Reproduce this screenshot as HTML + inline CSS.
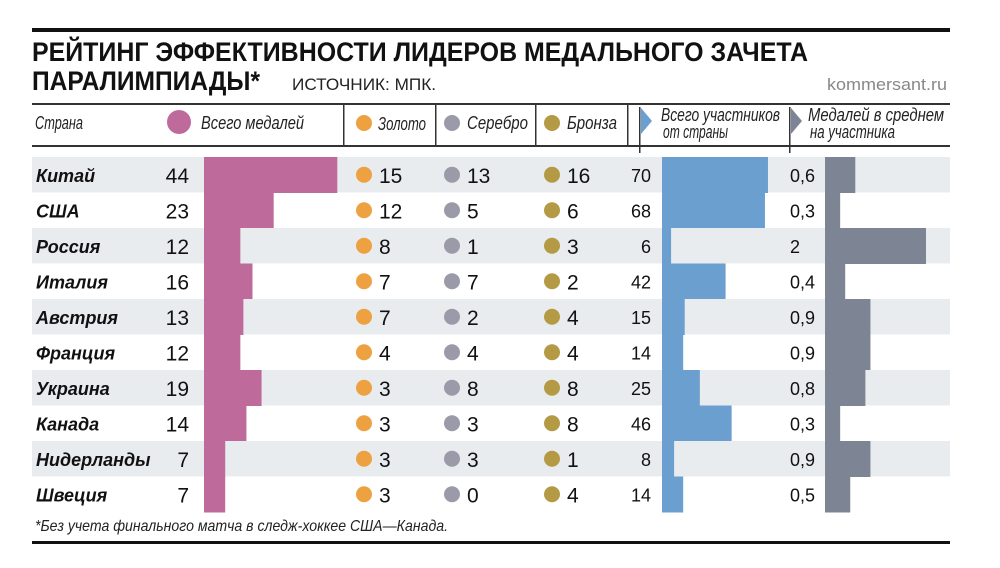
<!DOCTYPE html>
<html><head><meta charset="utf-8">
<style>
body{margin:0;background:#fff;}
svg{display:block;font-family:"Liberation Sans","DejaVu Sans",sans-serif;}
</style></head>
<body>
<svg id="chart" width="1000" height="568" viewBox="0 0 1000 568" xmlns="http://www.w3.org/2000/svg">
<rect x="32" y="28" width="918" height="4" fill="#111"/>
<text x="32" y="61" font-size="27" font-weight="bold" textLength="776" lengthAdjust="spacingAndGlyphs" fill="#111">РЕЙТИНГ ЭФФЕКТИВНОСТИ ЛИДЕРОВ МЕДАЛЬНОГО ЗАЧЕТА</text>
<text x="32" y="90" font-size="27" font-weight="bold" textLength="228" lengthAdjust="spacingAndGlyphs" fill="#111">ПАРАЛИМПИАДЫ*</text>
<text x="292" y="90" font-size="17" textLength="144" lengthAdjust="spacingAndGlyphs" fill="#222">ИСТОЧНИК: МПК.</text>
<text x="947" y="90" font-size="17" text-anchor="end" textLength="120" lengthAdjust="spacingAndGlyphs" fill="#888">kommersant.ru</text>
<rect x="32" y="103" width="918" height="2" fill="#333"/>
<rect x="32" y="145" width="918" height="2" fill="#333"/>
<g font-style="italic" font-size="18" fill="#222">
<text x="35" y="129" textLength="48" lengthAdjust="spacingAndGlyphs">Страна</text>
<circle cx="179" cy="122" r="12" fill="#be6b9b"/>
<text x="201" y="129" textLength="103" lengthAdjust="spacingAndGlyphs">Всего медалей</text>
<rect x="343" y="104" width="1.5" height="42" fill="#333"/>
<circle cx="364" cy="123" r="8" fill="#eda140"/>
<text x="378" y="130" textLength="48" lengthAdjust="spacingAndGlyphs">Золото</text>
<rect x="435" y="104" width="1.5" height="42" fill="#333"/>
<circle cx="452" cy="123" r="8" fill="#9a9aa8"/>
<text x="467" y="129" textLength="61" lengthAdjust="spacingAndGlyphs">Серебро</text>
<rect x="535" y="104" width="1.5" height="42" fill="#333"/>
<circle cx="552" cy="123" r="8" fill="#b49a45"/>
<text x="567" y="129" textLength="50" lengthAdjust="spacingAndGlyphs">Бронза</text>
<rect x="627" y="104" width="1.5" height="42" fill="#333"/>
<rect x="639" y="107" width="1.5" height="46" fill="#333"/>
<polygon points="641,108 652,121 641,134" fill="#6b9fd0"/>
<text x="661" y="121" textLength="119" lengthAdjust="spacingAndGlyphs">Всего участников</text>
<text x="663" y="138" textLength="65" lengthAdjust="spacingAndGlyphs">от страны</text>
<rect x="789" y="107" width="1.5" height="46" fill="#333"/>
<polygon points="791,108 802,121 791,134" fill="#7d8595"/>
<text x="808" y="121" textLength="136" lengthAdjust="spacingAndGlyphs">Медалей в среднем</text>
<text x="810" y="138" textLength="85" lengthAdjust="spacingAndGlyphs">на участника</text>
</g>
<g id="rows"></g>
<text x="35" y="531" font-size="16" font-style="italic" fill="#222" textLength="413" lengthAdjust="spacingAndGlyphs">*Без учета финального матча в следж-хоккее США—Канада.</text>
<rect x="32" y="541" width="918" height="3" fill="#111"/>
</svg>
<script>
const countries=["Китай","США","Россия","Италия","Австрия","Франция","Украина","Канада","Нидерланды","Швеция"];
const totals=[44,23,12,16,13,12,19,14,7,7];
const gold=[15,12,8,7,7,4,3,3,3,3];
const silver=[13,5,1,7,2,4,8,3,3,0];
const bronze=[16,6,3,2,4,4,8,8,1,4];
const participants=[70,68,6,42,15,14,25,46,8,14];
const averageLabels=["0,6","0,3","2","0,4","0,9","0,9","0,8","0,3","0,9","0,5"];
const averages=[0.6,0.3,2,0.4,0.9,0.9,0.8,0.3,0.9,0.5];

const NS="http://www.w3.org/2000/svg";
const g=document.getElementById('rows');
const top0=157, rh=35.5;
const xTotal=v=>204+v*3.03;
const xPart=v=>662+v*1.514;
const xAvg=v=>825+v*50.5;
function mk(tag,attrs,txt){const e=document.createElementNS(NS,tag);for(const k in attrs)e.setAttribute(k,attrs[k]);if(txt!==undefined)e.textContent=txt;g.appendChild(e);return e;}
countries.forEach((c,i)=>{
  const y=top0+i*rh, cy=y+rh/2, by=cy+7;
  if(i%2===0){
    const s=mk('rect',{x:32,y:y,width:918,height:rh,fill:'#e9ecef'});
    
    
  }
  const t=mk('text',{x:36,y:by,'font-size':18,'font-weight':'bold','font-style':'italic',fill:'#111'},c);
  
  
  const tv=mk('text',{x:189,y:by+1,'font-size':21,'text-anchor':'end',fill:'#111'},totals[i]);
  
  
  const b=mk('rect',{x:204,y:y,width:xTotal(totals[i])-204,height:rh+0.5,fill:'#be6b9b'});
  
  
  [[gold,364,'#eda140','gold'],[silver,452,'#9a9aa8','silver'],[bronze,552,'#b49a45','bronze']].forEach(([arr,x,col,n])=>{
    const d=mk('circle',{cx:x,cy:cy,r:8,fill:col});
    
    
    const v=mk('text',{x:x+15,y:by+1,'font-size':21,fill:'#111'},arr[i]);
    
    
  });
  const pv=mk('text',{x:651,y:by,'font-size':18,'text-anchor':'end',fill:'#111'},participants[i]);
  
  
  const pb=mk('rect',{x:662,y:y,width:xPart(participants[i])-662,height:rh+0.5,fill:'#6b9fd0'});
  
  
  const av=mk('text',{x:790,y:by,'font-size':18,fill:'#111'},averageLabels[i]);
  
  
  const ab=mk('rect',{x:825,y:y,width:xAvg(averages[i])-825,height:rh+0.5,fill:'#7d8595'});
  
  
});
</script>
</body></html>
